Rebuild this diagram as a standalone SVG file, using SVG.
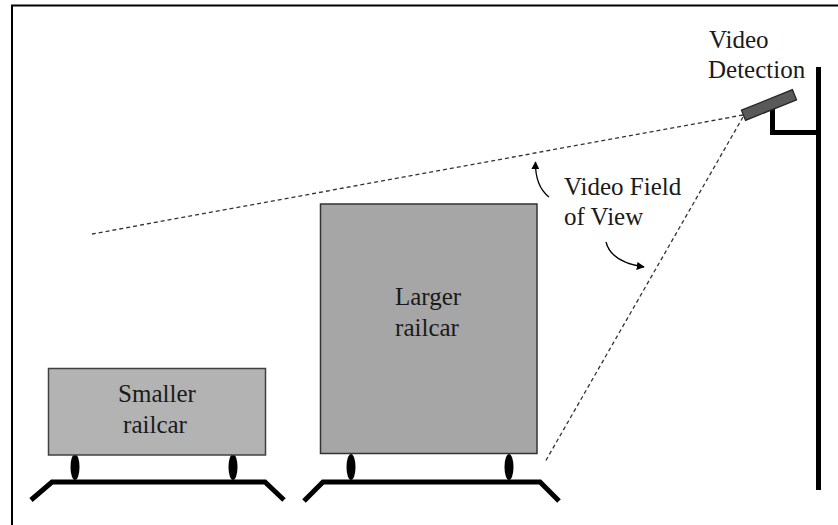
<svg xmlns="http://www.w3.org/2000/svg" width="838" height="525" viewBox="0 0 838 525">
  <defs>
    <style>
      .lbl { font-size: 25px; fill: #1a1a1a; }
      .car-small { fill: #b3b3b3; stroke: #404040; stroke-width: 1.5; }
      .car-large { fill: #a6a6a6; stroke: #333333; stroke-width: 1.5; }
      .track { fill: none; stroke: #000; stroke-width: 5; stroke-linejoin: miter; }
      .wheel { fill: #000; }
      .fov { fill: none; stroke: #333; stroke-width: 1.3; stroke-dasharray: 4 3; }
      .pointer { fill: none; stroke: #000; stroke-width: 1.3; }
      .frame { fill: none; stroke: #000; stroke-width: 2; }
      .mount { fill: none; stroke: #000; stroke-width: 5; }
    </style>
    <marker id="head" viewBox="0 0 10 10" refX="9" refY="5" markerWidth="8" markerHeight="8" markerUnits="userSpaceOnUse" orient="auto">
      <path d="M0,0 L10,5 L0,10 Z" fill="#000"/>
    </marker>
  </defs>

  <!-- frame edges -->
  <path class="frame" d="M12,525 L12,5.5 L838,5.5"/>

  <g font-family="'Liberation Serif', 'Times New Roman', 'DejaVu Serif', serif">
    <!-- camera on its pole -->
    <g id="camera">
      <path class="mount" d="M818.5,67 L818.5,490"/>
      <path class="mount" d="M772.5,108 L772.5,132.5 L818.5,132.5"/>
      <rect x="741.5" y="99.5" width="55" height="11" fill="#595959" stroke="#222" stroke-width="1.2" transform="rotate(-22 769 105)"/>
      <text class="lbl" x="709" y="48">Video</text>
      <text class="lbl" x="708" y="78">Detection</text>
    </g>

    <!-- field of view boundaries and pointers -->
    <g id="connectors">
      <path class="fov" d="M743,115 L92,234"/>
      <path class="fov" d="M743,117 L545,462"/>
      <path class="pointer" d="M549,197 Q535,186 535.5,162" marker-end="url(#head)"/>
      <path class="pointer" d="M606,242 Q611,262 644,267" marker-end="url(#head)"/>
    </g>

    <g id="fov-label">
      <text class="lbl" x="564" y="195">Video Field</text>
      <text class="lbl" x="564" y="225">of View</text>
    </g>

    <!-- smaller railcar -->
    <g id="small-railcar">
      <path class="track" d="M31,500 L52,482 L265,482 L284,500"/>
      <ellipse class="wheel" cx="75" cy="467" rx="4.5" ry="13"/>
      <ellipse class="wheel" cx="233" cy="467" rx="4.5" ry="13"/>
      <rect class="car-small" x="48.5" y="368.5" width="217" height="86.5"/>
      <text class="lbl" x="157" y="402" text-anchor="middle">Smaller</text>
      <text class="lbl" x="155" y="433" text-anchor="middle">railcar</text>
    </g>

    <!-- larger railcar -->
    <g id="large-railcar">
      <path class="track" d="M304,501 L323,482 L540,482 L559,501"/>
      <ellipse class="wheel" cx="351" cy="467" rx="4.5" ry="13"/>
      <ellipse class="wheel" cx="509" cy="467" rx="4.5" ry="13"/>
      <rect class="car-large" x="320.5" y="204" width="216.5" height="249.5"/>
      <text class="lbl" x="428" y="305" text-anchor="middle">Larger</text>
      <text class="lbl" x="427" y="336" text-anchor="middle">railcar</text>
    </g>
  </g>
</svg>
